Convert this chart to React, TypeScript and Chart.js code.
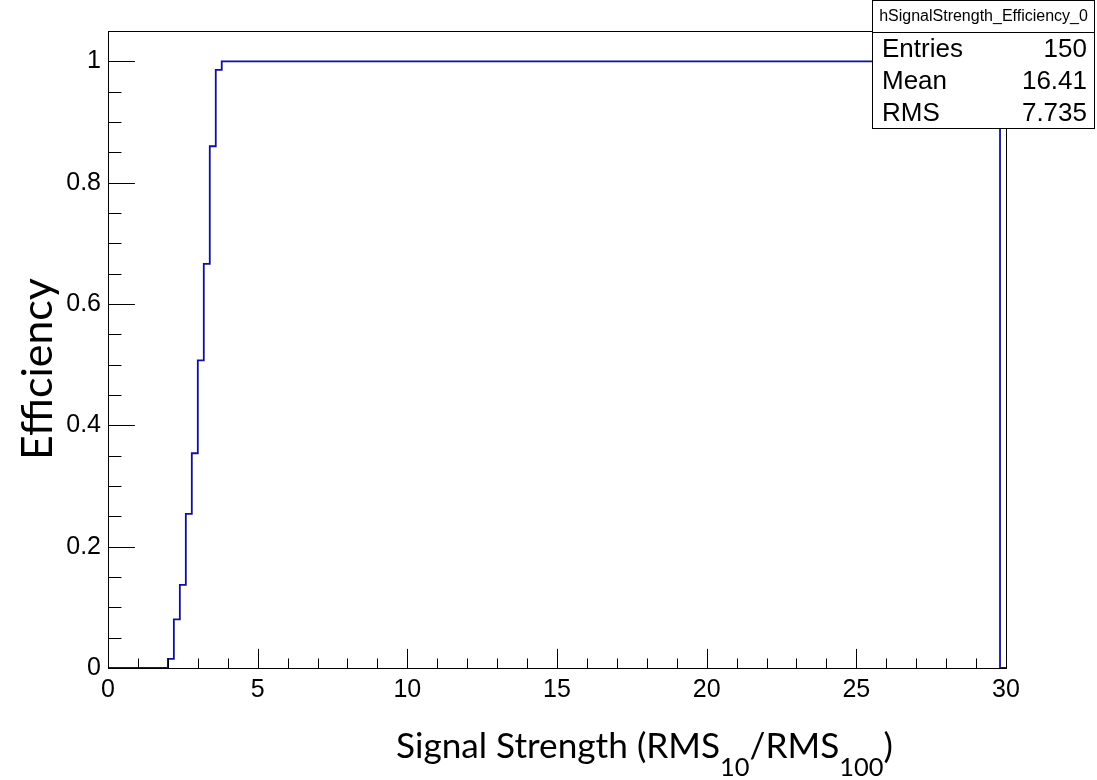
import React, { useEffect, useRef } from 'react';
import { Chart, registerables } from 'chart.js';

Chart.register(...registerables);

// Histogram: 150 bins from 0 to 30 (bin width 0.2), value per bin
const binCount = 150;
const xLow = 0;
const xHigh = 30;
const binValues = [
  0, 0, 0, 0, 0, 0, 0, 0, 0, 0,
  0.015, 0.080, 0.137, 0.254, 0.354, 0.507, 0.666, 0.860, 0.986, 1,
  1, 1, 1, 1, 1, 1, 1, 1, 1, 1,
  1, 1, 1, 1, 1, 1, 1, 1, 1, 1,
  1, 1, 1, 1, 1, 1, 1, 1, 1, 1,
  1, 1, 1, 1, 1, 1, 1, 1, 1, 1,
  1, 1, 1, 1, 1, 1, 1, 1, 1, 1,
  1, 1, 1, 1, 1, 1, 1, 1, 1, 1,
  1, 1, 1, 1, 1, 1, 1, 1, 1, 1,
  1, 1, 1, 1, 1, 1, 1, 1, 1, 1,
  1, 1, 1, 1, 1, 1, 1, 1, 1, 1,
  1, 1, 1, 1, 1, 1, 1, 1, 1, 1,
  1, 1, 1, 1, 1, 1, 1, 1, 1, 1,
  1, 1, 1, 1, 1, 1, 1, 1, 1, 1,
  1, 1, 1, 1, 1, 1, 1, 1, 1, 0,
];

const yMin = 0;
const yMax = 1.05;
const xTickValues = [0, 5, 10, 15, 20, 25, 30];
const xTickLabels = ['0', '5', '10', '15', '20', '25', '30'];
const yTickValues = [0, 0.2, 0.4, 0.6, 0.8, 1];
const yTickLabels = ['0', '0.2', '0.4', '0.6', '0.8', '1'];
const xMinorStep = 1;
const yMinorStep = 0.05;

const statsTitle = 'hSignalStrength_Efficiency_0';
const statsLabels = ['Entries', 'Mean', 'RMS'];
const statsValues = ['150', '16.41', '7.735'];

const yTitle = 'Efficiency';
const xTitleParts = [
  { text: 'Signal Strength (RMS', sub: false },
  { text: '10', sub: true },
  { text: '/RMS', sub: false },
  { text: '100', sub: true },
  { text: ')', sub: false },
];

const LINE_COLOR = '#10109f';
const TICK_FONT = 'Liberation Sans';
const TITLE_FONT = 'Lato';

const rootPlugin = {
  id: 'rootDecor',
  afterDraw(chart: any) {
    const ctx: CanvasRenderingContext2D = chart.ctx;
    const { left, right, top, bottom } = chart.chartArea;
    const xs = chart.scales.x;
    const ys = chart.scales.y;
    ctx.save();
    // frame
    ctx.strokeStyle = '#000';
    ctx.lineWidth = 1;
    ctx.strokeRect(Math.round(left) + 0.5, Math.round(top) + 0.5, Math.round(right - left), Math.round(bottom - top));

    // x ticks (inside, pointing up)
    const xMajorLen = 0.03 * (bottom - top);
    ctx.beginPath();
    for (let v = xLow; v <= xHigh + 1e-9; v += xMinorStep) {
      const px = Math.round(xs.getPixelForValue(v)) + 0.5;
      const isMajor = xTickValues.some((t) => Math.abs(t - v) < 1e-9);
      const len = isMajor ? xMajorLen : xMajorLen / 2;
      ctx.moveTo(px, bottom);
      ctx.lineTo(px, bottom - len);
    }
    // y ticks (inside, pointing right)
    const yMajorLen = 0.03 * (right - left);
    for (let i = 0; yMin + i * yMinorStep <= yMax + 1e-9; i++) {
      const v = yMin + i * yMinorStep;
      const py = Math.round(ys.getPixelForValue(v)) + 0.5;
      const isMajor = yTickValues.some((t) => Math.abs(t - v) < 1e-9);
      const len = isMajor ? yMajorLen : yMajorLen / 2;
      ctx.moveTo(left, py);
      ctx.lineTo(left + len, py);
    }
    ctx.stroke();

    // y title (rotated)
    ctx.fillStyle = '#000';
    const yTargetWidth = 182;
    ctx.font = `40px ${TITLE_FONT}`;
    const yw = ctx.measureText(yTitle).width;
    const ySize = (40 * yTargetWidth) / yw;
    ctx.font = `${ySize}px ${TITLE_FONT}`;
    ctx.save();
    ctx.translate(52, 369);
    ctx.rotate(-Math.PI / 2);
    ctx.textAlign = 'center';
    ctx.textBaseline = 'alphabetic';
    ctx.fillText(yTitle, 0, 0);
    ctx.restore();

    // x title with subscripts
    const mainBase = 36;
    const subBase = 26;
    let total = 0;
    for (const p of xTitleParts) {
      ctx.font = `${p.sub ? subBase : mainBase}px ${TITLE_FONT}`;
      total += ctx.measureText(p.text).width;
    }
    const k = 497 / total;
    let cx = 396;
    ctx.textAlign = 'left';
    ctx.textBaseline = 'alphabetic';
    for (const p of xTitleParts) {
      ctx.font = `${(p.sub ? subBase : mainBase) * k}px ${TITLE_FONT}`;
      ctx.fillText(p.text, cx, p.sub ? 776 : 758);
      cx += ctx.measureText(p.text).width;
    }

    // stats box
    const bx = 872.5, by = 0.5, bw = 222, bh = 128;
    ctx.fillStyle = '#fff';
    ctx.fillRect(bx, by, bw, bh);
    ctx.strokeStyle = '#000';
    ctx.strokeRect(bx, by, bw, bh);
    ctx.beginPath();
    ctx.moveTo(bx, 32.5);
    ctx.lineTo(bx + bw, 32.5);
    ctx.stroke();
    ctx.fillStyle = '#000';
    ctx.font = `16px ${TICK_FONT}`;
    ctx.textAlign = 'center';
    ctx.textBaseline = 'middle';
    ctx.fillText(statsTitle, bx + bw / 2, 17);
    ctx.font = `26px ${TICK_FONT}`;
    for (let i = 0; i < statsLabels.length; i++) {
      const cy = 50 + i * 32;
      ctx.textAlign = 'left';
      ctx.fillText(statsLabels[i], 882, cy);
      ctx.textAlign = 'right';
      ctx.fillText(statsValues[i], 1087, cy);
    }
    ctx.restore();
  },
};

export default function App() {
  const canvasRef = useRef<HTMLCanvasElement | null>(null);

  useEffect(() => {
    if (!canvasRef.current) return;
    const binWidth = (xHigh - xLow) / binCount;
    const points = binValues.map((v, i) => ({ x: xLow + i * binWidth, y: v }));
    points.push({ x: xHigh, y: binValues[binValues.length - 1] });

    const chart = new Chart(canvasRef.current, {
      type: 'line',
      data: {
        datasets: [
          {
            data: points,
            stepped: 'before',
            borderColor: LINE_COLOR,
            borderWidth: 1.8,
            pointRadius: 0,
            fill: false,
            tension: 0,
          },
        ],
      },
      options: {
        animation: false,
        responsive: false,
        devicePixelRatio: 1,
        layout: { padding: { left: 0, top: 31, right: 91, bottom: 0 } },
        plugins: { legend: { display: false }, tooltip: { enabled: false } },
        scales: {
          x: {
            type: 'linear',
            min: xLow,
            max: xHigh,
            grid: { display: false, drawTicks: false },
            border: { display: false },
            afterFit: (s: any) => { s.height = 112; },
            afterBuildTicks: (s: any) => { s.ticks = xTickValues.map((v) => ({ value: v })); },
            ticks: {
              padding: 7,
              maxRotation: 0,
              autoSkip: false,
              color: '#000',
              font: { family: TICK_FONT, size: 25 },
              callback: (v: any) => xTickLabels[xTickValues.indexOf(Number(v))] ?? '',
            },
          },
          y: {
            type: 'linear',
            min: yMin,
            max: yMax,
            grid: { display: false, drawTicks: false },
            border: { display: false },
            afterFit: (s: any) => { s.width = 108; },
            afterBuildTicks: (s: any) => { s.ticks = yTickValues.map((v) => ({ value: v })); },
            ticks: {
              padding: 7,
              autoSkip: false,
              color: '#000',
              font: { family: TICK_FONT, size: 25 },
              callback: (v: any) => {
                const idx = yTickValues.findIndex((t) => Math.abs(t - Number(v)) < 1e-9);
                return idx >= 0 ? yTickLabels[idx] : '';
              },
            },
          },
        },
      },
      plugins: [rootPlugin],
    });
    return () => chart.destroy();
  }, []);

  return (
    <div style={{ position: 'absolute', left: 0, top: 0, width: 1097, height: 780, background: '#fff' }}>
      <canvas ref={canvasRef} width={1097} height={780} />
    </div>
  );
}
